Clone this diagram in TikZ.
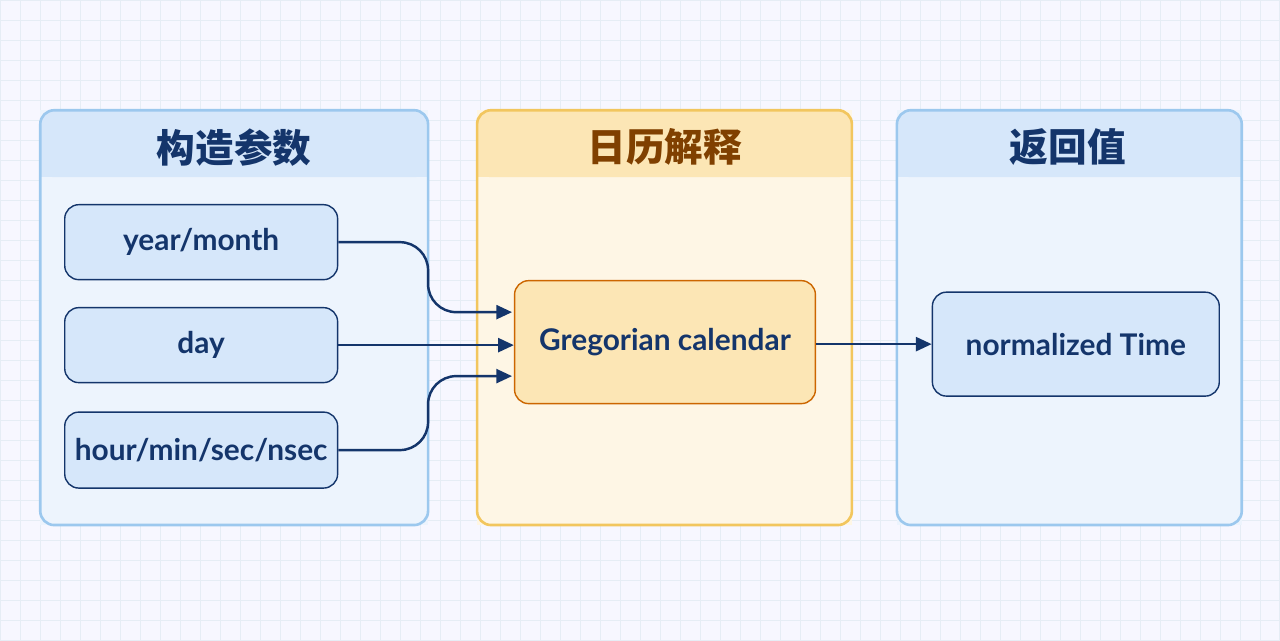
\documentclass[tikz,border=0pt]{standalone}
\usepackage{fontspec}
\setmainfont{Lato}
\newfontfamily\cjk{Noto Sans CJK SC}
\usetikzlibrary{positioning,arrows.meta}
\definecolor{navy}{HTML}{14356B}
\definecolor{bluefill}{HTML}{D6E7FA}
\definecolor{blueline}{HTML}{9CC8EE}
\definecolor{orfill}{HTML}{FCE6B5}
\definecolor{orline}{HTML}{F2C65E}
\definecolor{gridc}{HTML}{E6EDF5}
\tikzset{
  panel/.style={draw=#1, line width=1.5pt, rounded corners=8pt},
  item/.style={draw=navy, fill=bluefill, line width=0.8pt, rounded corners=8pt,
    font=\bfseries\fontsize{17}{20}\selectfont, text=navy},
  head/.style={font=\cjk\bfseries\fontsize{22}{26}\selectfont, text=navy},
  flow/.style={-{Triangle[length=9pt,width=8pt]}, draw=navy, line width=1.4pt, rounded corners=16pt}
}
\begin{document}
\begin{tikzpicture}[x=0.02cm,y=-0.02cm]
        % background and grid
        \fill[white!97!blue] (0,0) rectangle (1280,640);
        \foreach \gx in {0,20,...,1280} \draw[gridc, line width=0.3pt] (\gx,0) -- (\gx,640);
        \foreach \gy in {0,20,...,640} \draw[gridc, line width=0.3pt] (0,\gy) -- (1280,\gy);

        % the panels
        \fill[bluefill!45] (40,110) rectangle (428,525);
        \fill[bluefill, rounded corners=8pt] (40,110) rectangle (428,177);
        \fill[bluefill] (40,150) rectangle (428,177);
        \draw[panel=blueline] (40,110) rectangle (428,525);

        \fill[orfill!35] (477,110) rectangle (852,525);
        \fill[orfill, rounded corners=8pt] (477,110) rectangle (852,177);
        \fill[orfill] (477,150) rectangle (852,177);
        \draw[panel=orline] (477,110) rectangle (852,525);

        \fill[bluefill!45] (897,110) rectangle (1242,525);
        \fill[bluefill, rounded corners=8pt] (897,110) rectangle (1242,177);
        \fill[bluefill] (897,150) rectangle (1242,177);
        \draw[panel=blueline] (897,110) rectangle (1242,525);

        % the titles
        \node[head] (t1) at (234,147) {构造参数};
        \node[head, text=orange!50!black] (t2) at (665,147) {日历解释};
        \node[head] (t3) at (1068,147) {返回值};

        % the boxes
        \node[item, minimum width=273*0.02cm, minimum height=75*0.02cm] (ym) at (201,242) {year/month};
        \node[item, minimum width=273*0.02cm, minimum height=75*0.02cm] (dy) at (201,345) {day};
        \node[item, minimum width=273*0.02cm, minimum height=76*0.02cm] (hm) at (201,450) {hour/min/sec/nsec};
        \node[item, fill=orfill, draw=orange!80!black, minimum width=301*0.02cm, minimum height=123*0.02cm] (gc) at (665,342) {Gregorian calendar};
        \node[item, minimum width=287*0.02cm, minimum height=104*0.02cm] (nt) at (1076,344) {normalized Time};

        % draw the arrows
        \coordinate (in1) at (512,312);
        \coordinate (in3) at (512,376);
        \draw[flow] (ym.east) -- (428,242) -- (428,312) -- (in1);
        \draw[flow] (dy.east) -- (gc.west |- dy.east);
        \draw[flow] (hm.east) -- (428,450) -- (428,376) -- (in3);
        \draw[flow] (gc.east |- nt.west) -- (nt.west);
\end{tikzpicture}
\end{document}
